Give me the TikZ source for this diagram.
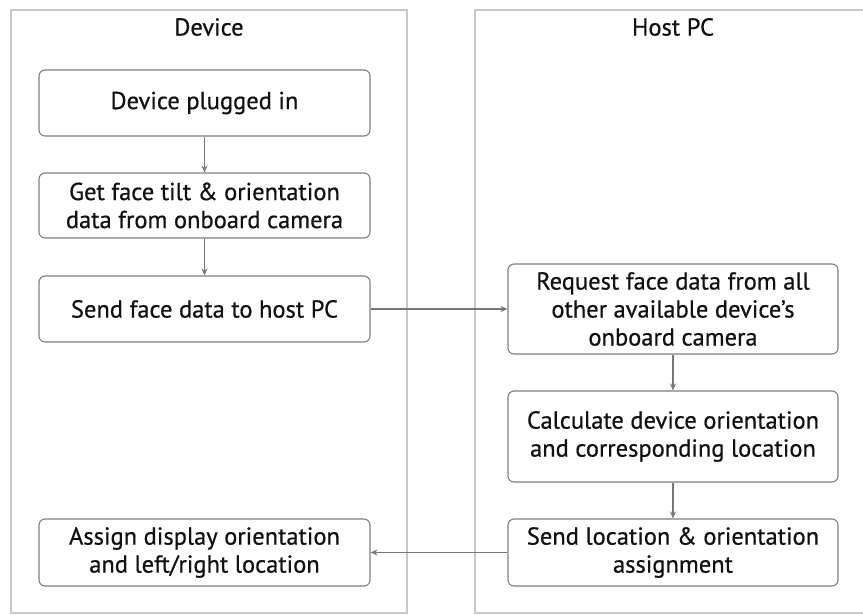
\documentclass[tikz,border=0pt]{standalone}
\usepackage{fontspec}
\setmainfont{PT Sans}[FakeBold=0.6]
\usetikzlibrary{arrows.meta}
\definecolor{lanec}{HTML}{C8C8C8}
\definecolor{boxc}{HTML}{7F7F7F}
\definecolor{arrc}{HTML}{777777}
\definecolor{txtc}{HTML}{111111}
\tikzset{
  lane/.style={draw=lanec, line width=1.3pt},
  stepbox/.style={draw=boxc, line width=1.1pt, rounded corners=6pt, fill=white, align=center, inner sep=0pt, text=txtc, font=\fontsize{24.5}{28}\selectfont},
  title/.style={text=txtc, font=\fontsize{24.5}{28}\selectfont},
  flow/.style={draw=arrc, line width=1.2pt, -{Stealth[length=7pt,width=6pt]}}
}
\begin{document}
\begin{tikzpicture}[x=1pt,y=-1pt]
\useasboundingbox[fill=white] (0,0) rectangle (863,614);
\draw[lane] (11,10) rectangle (407,613);
\draw[lane] (475,10) rectangle (871,613);
\node[title] (tdev) at (209,27) {Device};
\node[title] (thost) at (673,27) {Host PC};
\node[stepbox, minimum width=331pt, minimum height=66pt] (a) at (204.5,103) {Device plugged in};
\node[stepbox, minimum width=331pt, minimum height=65pt] (b) at (204.5,205.5) {Get face tilt \& orientation\\data from onboard camera};
\node[stepbox, minimum width=331pt, minimum height=66pt] (c) at (204.5,309) {Send face data to host PC};
\node[stepbox, minimum width=330pt, minimum height=90pt] (d) at (673,309) {Request face data from all\\other available device’s\\onboard camera};
\node[stepbox, minimum width=330pt, minimum height=91pt] (e) at (673,436.5) {Calculate device orientation\\and corresponding location};
\node[stepbox, minimum width=330pt, minimum height=67pt] (f) at (673,552.5) {Send location \& orientation\\assignment};
\node[stepbox, minimum width=331pt, minimum height=67pt] (g) at (204.5,552.5) {Assign display orientation\\and left/right location};
\draw[flow] (a) -- (b);
\draw[flow] (b) -- (c);
\draw[flow] (c) -- (d);
\draw[flow] (d) -- (e);
\draw[flow] (e) -- (f);
\draw[flow] (f) -- (g);
\end{tikzpicture}
\end{document}
